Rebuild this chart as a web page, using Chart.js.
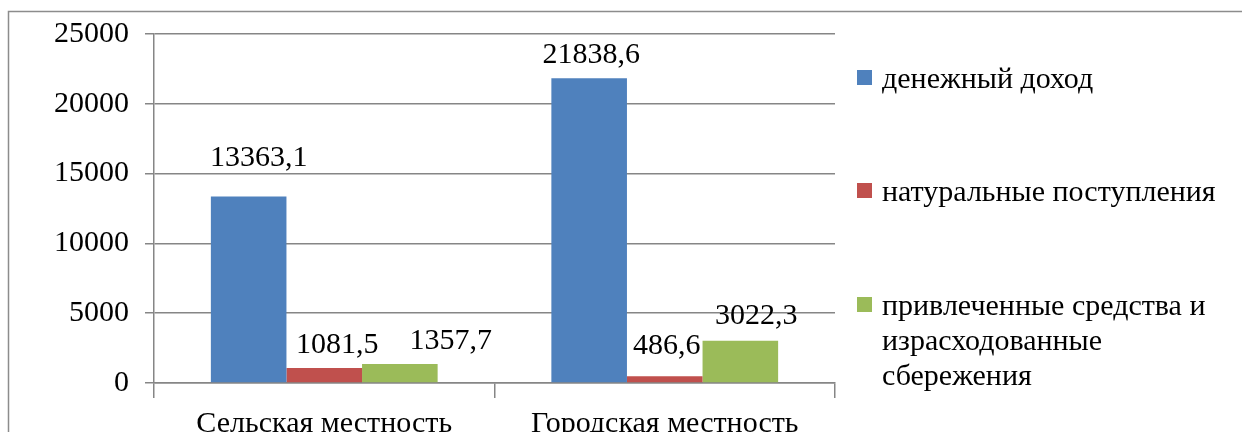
<!DOCTYPE html>
<html>
<head>
<meta charset="utf-8">
<script src="https://cdn.jsdelivr.net/npm/chart.js@4.4.0/dist/chart.umd.min.js"></script>
<style>
  html, body { margin: 0; padding: 0; background: #fff; }
  #wrap { width: 1242px; height: 432px; position: relative; }
</style>
</head>
<body>
<div id="wrap"><canvas id="incomeChart" width="1242" height="432"></canvas></div>
<script>
var categories = ["Сельская местность", "Городская местность"];
var seriesNames = ["денежный доход", "натуральные поступления", "привлеченные средства и израсходованные сбережения"];
var moneyIncome = [13363.1, 21838.6];
var naturalIncome = [1081.5, 486.6];
var savingsUsed = [1357.7, 3022.3];
var yTicks = [0, 5000, 10000, 15000, 20000, 25000];

var colors = ["#4f81bd", "#c0504d", "#9bbb59"];
var serif = "'Liberation Serif', 'Times New Roman', serif";

// подписи значений в оригинале сдвинуты вручную: сдвиг по x и зазор над столбцом
var labelDx = [[10, 2], [13, 2], [51, 16]];
var labelGap = [[30, 15], [15, 22], [15, 17]];

// легенда справа, третья подпись в три строки
var legendLines = [["денежный доход"], ["натуральные поступления"], ["привлеченные средства и", "израсходованные", "сбережения"]];
var legendY = [77, 190, 304];

var framePlugin = {
    id: 'frame',
    beforeDraw: function (chart) {
        var ctx = chart.ctx;
        ctx.save();
        ctx.fillStyle = '#fff';
        ctx.fillRect(0, 0, chart.width, chart.height);
        ctx.strokeStyle = '#8c8c8c';
        ctx.lineWidth = 1.5;
        ctx.strokeRect(8.5, 11.5, chart.width + 20, chart.height + 20);
        ctx.restore();
    }
};

var valueLabels = {
    id: 'valueLabels',
    afterDatasetsDraw: function (chart) {
        var ctx = chart.ctx;
        ctx.save();
        ctx.font = '30px ' + serif;
        ctx.fillStyle = '#000';
        ctx.textAlign = 'center';
        ctx.textBaseline = 'alphabetic';
        chart.data.datasets.forEach(function (ds, i) {
            chart.getDatasetMeta(i).data.forEach(function (bar, j) {
                var txt = String(ds.data[j]).replace('.', ',');
                ctx.fillText(txt, bar.x + labelDx[i][j], bar.y - labelGap[i][j]);
            });
        });
        ctx.restore();
    }
};

var sideLegend = {
    id: 'sideLegend',
    afterDraw: function (chart) {
        var ctx = chart.ctx;
        var x = chart.chartArea.right + 22;
        ctx.save();
        ctx.font = '30px ' + serif;
        ctx.textBaseline = 'middle';
        ctx.textAlign = 'left';
        chart.data.datasets.forEach(function (ds, i) {
            var y = legendY[i];
            ctx.fillStyle = ds.backgroundColor;
            ctx.fillRect(x, y - 7, 15, 15);
            ctx.fillStyle = '#000';
            legendLines[i].forEach(function (line, k) {
                ctx.fillText(line, x + 25, y + 3 + k * 35);
            });
        });
        ctx.restore();
    }
};

new Chart(document.getElementById('incomeChart').getContext('2d'), {
    type: 'bar',
    data: {
        labels: categories,
        datasets: [
            { label: seriesNames[0], data: moneyIncome, backgroundColor: colors[0] },
            { label: seriesNames[1], data: naturalIncome, backgroundColor: colors[1] },
            { label: seriesNames[2], data: savingsUsed, backgroundColor: colors[2] }
        ]
    },
    options: {
        responsive: false,
        animation: false,
        layout: { padding: { left: 0, top: 29, right: 407, bottom: 0 } },
        datasets: { bar: { categoryPercentage: 0.666, barPercentage: 1.0 } },
        plugins: {
            legend: { display: false },
            tooltip: { enabled: false }
        },
        scales: {
            x: {
                afterFit: function (scale) { scale.height = 49; },
                grid: { drawOnChartArea: false, drawTicks: true, tickLength: 15, color: '#868686', lineWidth: 1.5 },
                border: { color: '#868686', width: 1.5 },
                ticks: { color: '#000', font: { family: serif, size: 30 }, padding: 8, maxRotation: 0 }
            },
            y: {
                min: 0,
                max: 25000,
                afterFit: function (scale) { scale.width = 154; },
                afterBuildTicks: function (scale) {
                    scale.ticks = yTicks.map(function (v) { return { value: v }; });
                },
                grid: { color: '#868686', lineWidth: 1.5, tickLength: 9 },
                border: { color: '#868686', width: 1.5 },
                ticks: { color: '#000', font: { family: serif, size: 30 }, padding: 16,
                    callback: function (v) { return String(v); } }
            }
        }
    },
    plugins: [framePlugin, valueLabels, sideLegend]
});
</script>
</body>
</html>
